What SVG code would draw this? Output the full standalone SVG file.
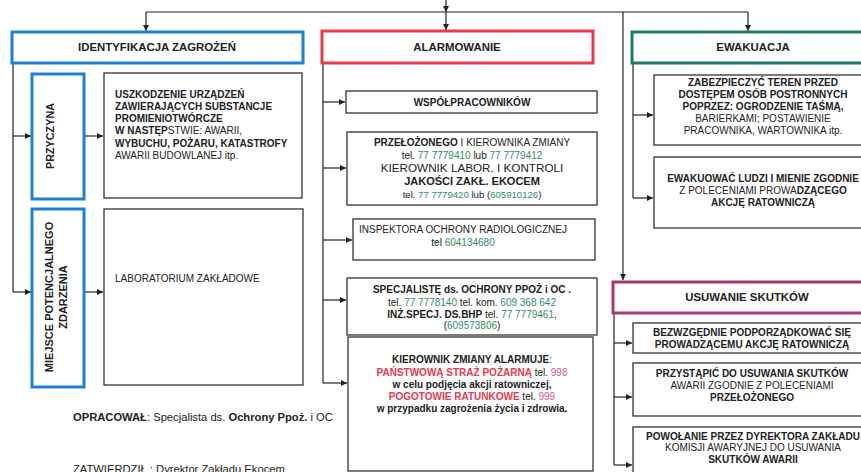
<svg xmlns="http://www.w3.org/2000/svg" width="861" height="472" viewBox="0 0 861 472">
<defs>
<marker id="ah" viewBox="0 0 10 10" refX="10" refY="5" markerWidth="7" markerHeight="6" orient="auto" markerUnits="userSpaceOnUse"><path d="M0,0 L10,5 L0,10 z" fill="#222"/></marker>
<style>
text{font-family:"Liberation Sans",Arial,sans-serif;fill:#222;font-size:10px}
.b{font-weight:bold}
.h{font-size:11.4px;font-weight:bold}
.c{text-anchor:middle}
.box{fill:#fff;stroke:#333;stroke-width:1.3}
.blue{fill:#fff;stroke:#1e7fd6;stroke-width:3}
.red{fill:#fff;stroke:#e83a4a;stroke-width:3}
.teal{fill:#fff;stroke:#1f7a6a;stroke-width:3}
.mag{fill:#fff;stroke:#a8386f;stroke-width:3}
.g{fill:#2f8f5f}
.r{fill:#e8384f;font-weight:bold}
.p{fill:#e0508a}
.ln{fill:none;stroke:#222;stroke-width:1.2}
.la{fill:none;stroke:#222;stroke-width:1.2;marker-end:url(#ah)}
</style>
</defs>
<rect width="861" height="472" fill="#fff"/>

<g id="connectors">
<path class="la" d="M446,0 V12"/>
<path class="ln" d="M146,12 H748"/>
<path class="la" d="M146,12 V31"/>
<path class="la" d="M446,12 V30"/>
<path class="la" d="M748,12 V31"/>
<path class="la" d="M623,12 V280"/>
<path class="ln" d="M13,63 V292"/>
<path class="la" d="M13,136 H31"/>
<path class="la" d="M13,292 H31"/>
<path class="la" d="M84,136 H103"/>
<path class="la" d="M84,292 H103"/>
<path class="ln" d="M323,63 V383"/>
<path class="la" d="M323,102 H345"/>
<path class="la" d="M323,168 H346"/>
<path class="la" d="M323,240 H352"/>
<path class="la" d="M323,300 H346"/>
<path class="la" d="M323,383 H347"/>
<path class="ln" d="M633,63 V198"/>
<path class="la" d="M633,115 H653"/>
<path class="la" d="M633,198 H653"/>
<path class="ln" d="M614,313 V465"/>
<path class="la" d="M614,343 H632"/>
<path class="la" d="M614,397 H632"/>
<path class="la" d="M614,465 H632"/>
</g>

<g id="identyfikacja">
<rect class="blue" x="12" y="32" width="291" height="31"/>
<text class="h c" x="157" y="51">IDENTYFIKACJA ZAGROŻEŃ</text>
</g>
<g id="przyczyna">
<rect class="blue" x="32" y="74" width="52" height="125"/>
<text class="b c" style="font-size:10.8px" transform="translate(54,136) rotate(-90)">PRZYCZYNA</text>
</g>
<g id="uszkodzenie">
<rect class="box" x="104" y="73" width="198" height="125"/>
<text class="b" x="115" y="98">USZKODZENIE URZĄDZEŃ</text>
<text class="b" x="115" y="110">ZAWIERAJĄCYCH SUBSTANCJE</text>
<text class="b" x="115" y="122">PROMIENIOTWÓRCZE</text>
<text x="115" y="134"><tspan class="b">W NASTĘP</tspan>STWIE: AWARII,</text>
<text class="b" x="115" y="147">WYBUCHU, POŻARU, KATASTROFY</text>
<text x="115" y="159">AWARII BUDOWLANEJ itp.</text>
</g>
<g id="miejsce">
<rect class="blue" x="32" y="209" width="52" height="178"/>
<text class="b c" style="font-size:11px" transform="translate(53,297) rotate(-90)">MIEJSCE POTENCJALNEGO</text>
<text class="b c" style="font-size:11px" transform="translate(67,297) rotate(-90)">ZDARZENIA</text>
</g>
<g id="laboratorium">
<rect class="box" x="104" y="209" width="199" height="176"/>
<text x="115" y="282">LABORATORIUM ZAKŁADOWE</text>
</g>

<g id="alarmowanie">
<rect class="red" x="322" y="31" width="271" height="32"/>
<text class="h c" x="457" y="51">ALARMOWANIE</text>
</g>
<g id="wspolpracownikow">
<rect class="box" x="346" y="91" width="251" height="22"/>
<text class="b c" x="472" y="106">WSPÓŁPRACOWNIKÓW</text>
</g>
<g id="przelozonego">
<rect class="box" x="347" y="132" width="250" height="73"/>
<text class="c" x="472" y="146"><tspan class="b">PRZEŁOŻONEGO</tspan> I KIEROWNIKA ZMIANY</text>
<text class="c" x="472" y="159">tel. <tspan class="g">77 7779410</tspan> lub <tspan class="g">77 7779412</tspan></text>
<text class="c" x="472" y="172" style="font-size:11.7px">KIEROWNIK LABOR. I KONTROLI</text>
<text class="c b" x="472" y="185" style="font-size:11px">JAKOŚCI ZAKŁ. EKOCEM</text>
<text class="c" x="472" y="198" style="font-size:9.6px">tel. <tspan class="g">77 7779420</tspan> lub (<tspan class="g">605910126</tspan>)</text>
</g>
<g id="inspektora">
<rect class="box" x="353" y="219" width="242" height="41"/>
<text class="c" x="463" y="233">INSPEKTORA OCHRONY RADIOLOGICZNEJ</text>
<text class="c" x="463" y="246">tel <tspan class="g">604134680</tspan></text>
</g>
<g id="specjaliste">
<rect class="box" x="347" y="278" width="250" height="57"/>
<text class="c b" x="472" y="293">SPECJALISTĘ ds. OCHRONY PPOŻ i OC .</text>
<text class="c" x="472" y="306">tel. <tspan class="g">77 7778140</tspan> tel. kom. <tspan class="g">609 368 642</tspan></text>
<text class="c" x="472" y="318"><tspan class="b">INŻ.SPECJ. DS.BHP</tspan> tel.  <tspan class="g">77 7779461</tspan>,</text>
<text class="c" x="472" y="329">(<tspan class="g">609573806</tspan>)</text>
</g>
<g id="kierownik">
<rect class="box" x="348" y="337" width="245" height="134"/>
<text class="c b" x="472" y="363">KIEROWNIK ZMIANY ALARMUJE<tspan style="font-weight:normal">:</tspan></text>
<text class="c" x="472" y="376"><tspan class="r">PAŃSTWOWĄ STRAŻ POŻARNĄ</tspan> tel. <tspan class="p">998</tspan></text>
<text class="c b" x="472" y="388">w celu podjęcia akcji ratowniczej,</text>
<text class="c" x="472" y="400"><tspan class="r">POGOTOWIE RATUNKOWE</tspan> tel. <tspan class="p">999</tspan></text>
<text class="c b" x="472" y="412">w przypadku zagrożenia życia i zdrowia.</text>
</g>

<g id="ewakuacja">
<rect class="teal" x="632" y="32" width="242" height="31"/>
<text class="h c" x="753" y="51">EWAKUACJA</text>
</g>
<g id="zabezpieczyc">
<rect class="box" x="654" y="75" width="218" height="70"/>
<text class="c b" x="763" y="86">ZABEZPIECZYĆ TEREN PRZED</text>
<text class="c b" x="763" y="98">DOSTĘPEM OSÓB POSTRONNYCH</text>
<text class="c b" x="763" y="110">POPRZEZ: OGRODZENIE TAŚMĄ,</text>
<text class="c" x="763" y="122">BARIERKAMI; POSTAWIENIE</text>
<text class="c" x="763" y="134">PRACOWNIKA, WARTOWNIKA itp.</text>
</g>
<g id="ewakuowac">
<rect class="box" x="654" y="157" width="218" height="71"/>
<text class="c b" x="763" y="182">EWAKUOWAĆ LUDZI I MIENIE ZGODNIE</text>
<text class="c" x="763" y="194">Z POLECENIAMI PROWA<tspan class="b">DZĄCEGO</tspan></text>
<text class="c b" x="763" y="206">AKCJĘ RATOWNICZĄ</text>
</g>

<g id="usuwanie">
<rect class="mag" x="613" y="282" width="262" height="31"/>
<text class="h c" x="747" y="301">USUWANIE SKUTKÓW</text>
</g>
<g id="bezwzglednie">
<rect class="box" x="633" y="323" width="238" height="30"/>
<text class="c b" x="752" y="336">BEZWZGĘDNIE PODPORZĄDKOWAĆ SIĘ</text>
<text class="c b" x="752" y="348">PROWADZĄCEMU AKCJĘ RATOWNICZĄ</text>
</g>
<g id="przystapic">
<rect class="box" x="633" y="363" width="238" height="53"/>
<text class="c b" x="752" y="377">PRZYSTĄPIĆ DO USUWANIA SKUTKÓW</text>
<text class="c" x="752" y="389">AWARII ZGODNIE Z POLECENIAMI</text>
<text class="c b" x="752" y="401">PRZEŁOŻONEGO</text>
</g>
<g id="powolanie">
<rect class="box" x="633" y="427" width="238" height="60"/>
<text class="c b" x="753" y="440">POWOŁANIE PRZEZ DYREKTORA ZAKŁADU</text>
<text class="c" x="753" y="451">KOMISJI AWARYJNEJ DO USUWANIA</text>
<text class="c b" x="753" y="463">SKUTKÓW AWARII</text>
</g>

<g id="footer">
<text x="73" y="421" style="font-size:11.2px"><tspan class="b">OPRACOWAŁ</tspan>: Specjalista ds. <tspan class="b">Ochrony Ppoż.</tspan> i OC</text>
<text x="73" y="473" style="font-size:11.2px">ZATWIERDZIŁ : Dyrektor Zakładu Ekocem</text>
</g>
</svg>
